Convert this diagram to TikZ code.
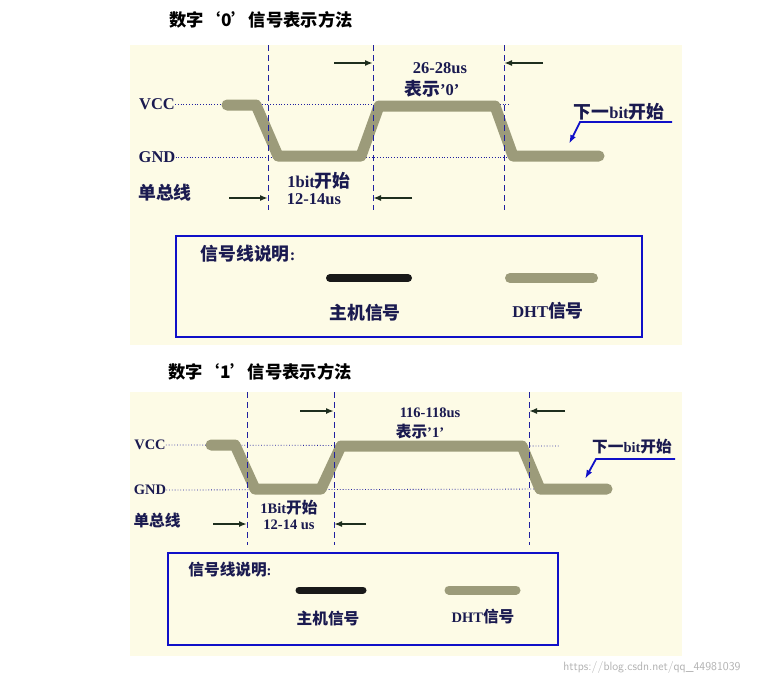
\documentclass[tikz,border=0pt]{standalone}
\usepackage{fontspec}
\setmainfont{Liberation Serif}
\newfontfamily\cjk[Scale=1.08]{Noto Sans CJK SC}
\newcommand{\zh}[1]{{\cjk #1}}
\usetikzlibrary{arrows.meta}
\definecolor{bgc}{HTML}{FDFBE6}
\definecolor{wave}{HTML}{9C9B7A}
\definecolor{txt}{HTML}{1A1A50}
\definecolor{dshc}{HTML}{2020A0}
\definecolor{arr}{HTML}{1E2E1E}
\definecolor{nbl}{HTML}{1010C8}
\tikzset{
 lab/.style={text=txt,font=\bfseries\fontsize{16.5}{18}\selectfont,inner sep=0pt,align=center},
 labs/.style={text=txt,font=\bfseries\fontsize{14.5}{16}\selectfont,inner sep=0pt,align=center},
 title/.style={text=black,font=\bfseries\fontsize{16}{18}\selectfont,inner sep=0pt},
 wv/.style={wave,line width=11pt,line cap=round,line join=round},
 hostl/.style={black!90,line width=8pt,line cap=round},
 vdash/.style={dshc,dash pattern=on 6pt off 4pt,line width=0.8pt},
 hdot/.style={dshc,dotted,line width=0.8pt},
 tarr/.style={arr,line width=1.8pt,-{Latex[length=8pt,width=6pt]}},
 barr/.style={nbl,line width=1.8pt,-{Latex[length=9pt,width=6pt]}},
 box/.style={draw=nbl,line width=2pt}
}
\begin{document}
\begin{tikzpicture}[x=1pt,y=-1pt]
\useasboundingbox (0,0) rectangle (769,686);
\fill[white] (0,0) rectangle (769,686);
% ===== top panel =====
\node[title] (t0) at (261,20) {\zh{数字‘0’信号表示方法}};
\fill[bgc] (130,45) rectangle (682,345);
\node[lab] (vcc0) at (157,104) {VCC};
\node[lab] (gnd0) at (157,157) {GND};
\node[lab] (bus0) at (165,193) {\zh{单总线}};
\draw[hdot] (vcc0.east) -- (511,104);
\draw[hdot] (gnd0.east) -- (511,157);
\draw[wv] (227,105) -- (256,105) -- (278,156) -- (361,156) -- (379,106) -- (495,106) -- (513,156) -- (599,156);
\foreach \x/\n in {268/a,373/b,504/c}{
 \coordinate (\n0t) at (\x,45); \coordinate (\n0b) at (\x,210);
 \draw[vdash] (\n0t) -- (\n0b);}
\coordinate (p1) at (334,63); \coordinate (q1) at (373,63);
\coordinate (p2) at (543,63); \coordinate (q2) at (504,63);
\coordinate (p3) at (229,198); \coordinate (q3) at (268,198);
\coordinate (p4) at (412,198); \coordinate (q4) at (373,198);
\foreach \i in {1,2,3,4}{\draw[tarr] (p\i) -- (q\i);}
\node[lab] (d0) at (440,68) {26-28us};
\node[lab] (s0) at (432,89) {\zh{表示}'0'};
\node[lab] (b0) at (319,181) {1bit\zh{开始}};
\node[lab] (u0) at (314,199) {12-14us};
\node[lab] (n0) at (619,112) {\zh{下一}bit\zh{开始}};
\coordinate (n0a) at (672,122); \coordinate (n0b) at (580,122); \coordinate (n0c) at (569,144);
\draw[barr] (n0a) -- (n0b) -- (n0c);
\draw[box] (176,236) rectangle (642,337);
\node[lab] (l0) at (248,254) {\zh{信号线说明}:};
\draw[hostl] (330,278) -- (408,278);
\draw[wv,line width=10pt] (510,278) -- (593,278);
\node[lab] (h0) at (365,313) {\zh{主机信号}};
\node[lab] (m0) at (548,311) {DHT\zh{信号}};
% ===== bottom panel =====
\node[title] (t1) at (260,372) {\zh{数字‘1’信号表示方法}};
\fill[bgc] (130,392) rectangle (682,656);
\node[labs] (vcc1) at (150,445) {VCC};
\node[labs] (gnd1) at (150,490) {GND};
\node[labs] (bus1) at (157,521) {\zh{单总线}};
\draw[hdot] (vcc1.east) -- (560,446);
\draw[hdot] (gnd1.east) -- (560,489);
\draw[wv] (211,445) -- (235,445) -- (255,489) -- (321,489) -- (341,446) -- (522,446) -- (540,489) -- (607,489);
\foreach \x/\n in {247/a,334/b,529/c}{
 \coordinate (\n1t) at (\x,392); \coordinate (\n1b) at (\x,545);
 \draw[vdash] (\n1t) -- (\n1b);}
\coordinate (r1) at (300,411); \coordinate (s1) at (334,411);
\coordinate (r2) at (565,411); \coordinate (s2) at (529,411);
\coordinate (r3) at (213,524); \coordinate (s3) at (247,524);
\coordinate (r4) at (366,524); \coordinate (s4) at (334,524);
\foreach \i in {1,2,3,4}{\draw[tarr] (r\i) -- (s\i);}
\node[labs] (d1) at (430,413) {116-118us};
\node[labs] (e1) at (420,432) {\zh{表示}'1'};
\node[labs] (b1) at (289,508) {1Bit\zh{开始}};
\node[labs] (u1) at (289,525) {12-14 us};
\node[labs] (n1) at (632,447) {\zh{下一}bit\zh{开始}};
\coordinate (n1a) at (675,459); \coordinate (n1b) at (596,459); \coordinate (n1c) at (585,479);
\draw[barr] (n1a) -- (n1b) -- (n1c);
\draw[box] (168,553) rectangle (558,645);
\node[labs] (l1) at (230,570) {\zh{信号线说明}:};
\draw[hostl,line width=7pt] (299,590) -- (363,590);
\draw[wv,line width=9pt] (449,590) -- (516,590);
\node[labs] (h1) at (328,619) {\zh{主机信号}};
\node[labs] (m1) at (483,617) {DHT\zh{信号}};
\node[text=black!30,font=\fontsize{12}{14}\selectfont\sffamily,inner sep=0pt] (wm) at (652,667) {https://blog.csdn.net/qq\_44981039};
\end{tikzpicture}
\end{document}
